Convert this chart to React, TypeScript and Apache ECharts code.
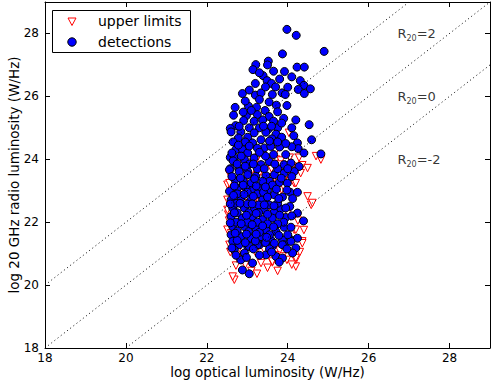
import React, { useEffect, useRef } from "react";
import * as echarts from "echarts";

const X_TICKS = [18, 20, 22, 24, 26, 28];
const Y_TICKS = [18, 20, 22, 24, 26, 28];

const detections: number[][] = [
  [23.98,28.13],[24.21,27.94],[24.90,27.43],[23.87,27.35],[23.52,27.12],[23.21,27.01],[23.50,27.00],[23.14,26.85],[23.92,26.79],[24.23,26.93],[24.41,26.93],[23.39,26.66],[24.10,26.62],[23.49,26.50],[23.60,26.41],[23.20,26.41],[24.31,26.50],[24.40,26.35],[24.56,26.24],[24.00,26.29],[24.26,26.22],[22.88,26.09],[23.20,26.04],[23.34,26.11],[23.62,26.06],[23.86,26.11],[23.94,26.06],[24.41,26.09],
  [23.03,25.69],[23.23,25.65],[23.54,25.82],[23.72,25.72],[23.98,25.71],[23.44,25.55],[23.75,25.51],[22.66,25.40],[22.98,25.39],[23.25,25.42],[23.54,25.36],[22.91,25.23],[23.17,25.21],[23.38,25.25],[23.65,25.21],[22.71,25.07],[22.58,24.98],[23.05,25.00],[23.30,25.00],[23.52,24.96],[23.75,25.00],[24.10,25.00],[24.53,25.10],[22.60,24.87],[22.84,24.87],[23.17,24.84],[23.46,24.86],[23.71,24.80],[22.78,24.68],[23.01,24.70],[23.34,24.62],[23.61,24.65],[23.85,24.70],[24.59,24.62],[23.13,24.52],[23.42,24.36],[23.58,24.41],[23.80,24.39],[24.24,24.52],[24.26,24.34],[24.40,24.20],[24.82,24.17],[22.72,24.31],[22.88,24.31],[23.01,24.20],[22.58,24.06],[22.68,24.04],[22.93,23.99],[23.17,24.04],[23.34,23.83],[23.54,23.93],[23.91,23.83],[24.08,23.88],[24.28,23.77],[22.58,23.70],[22.80,23.70],[23.01,23.61],
  [22.56,23.67],[22.80,23.61],[23.01,23.51],[23.21,23.46],[23.46,23.48],[23.67,23.51],[23.91,23.56],[24.16,23.61],[23.79,23.26],[23.99,23.24],[22.56,22.98],[22.76,23.09],[22.97,23.09],[23.13,23.03],[23.30,23.09],[23.50,23.01],[23.67,22.87],[23.87,22.80],[24.06,22.95],[24.24,22.95],[22.60,22.71],[22.84,22.77],[23.09,22.71],[23.38,22.71],[23.54,22.55],[22.64,22.45],[22.93,22.45],[23.17,22.45],[23.42,22.39],[23.67,22.34],[23.83,22.42],[24.24,22.29],[24.39,22.04],[22.60,22.18],[22.88,22.13],[23.13,22.18],[23.38,22.08],[23.62,22.13],[23.91,21.84],[24.08,21.84],[22.64,21.86],[22.93,21.86],[23.21,21.81],[23.46,21.76],[23.71,21.70],[22.60,21.60],[22.84,21.54],[23.09,21.49],[23.34,21.54],[23.58,21.44],[23.87,21.44],[24.08,21.44],[24.24,21.49],[22.68,21.28],[23.01,21.23],[23.30,21.28],[23.62,21.23],[23.91,21.28],
  [22.64,21.39],[22.80,21.28],[23.05,21.23],[23.25,21.28],[23.67,21.33],[23.87,21.28],[24.08,21.39],[24.20,21.18],[22.68,21.12],[22.93,21.02],[23.46,20.96],[23.71,20.91],[23.87,20.86],[24.12,21.02],[22.84,20.80],[23.13,20.70],[23.79,20.73],[22.88,20.48],[23.05,20.36],
  [22.70,23.35],[22.90,23.30],[23.10,23.25],[22.75,22.90],[23.00,22.95],[23.25,22.90],[22.72,22.60],[23.00,22.58],[23.28,22.55],[22.75,22.30],[23.03,22.30],[23.28,22.30],[22.72,22.00],[23.00,22.00],[23.25,22.00],[23.50,21.95],[22.75,21.72],[23.03,21.70],[23.30,21.68],[22.75,21.42],[23.20,21.40],[23.45,21.35],[22.65,23.95],[22.85,24.10],[23.05,23.85],[23.25,23.70],[22.65,24.55],[22.95,24.55],[23.25,24.35],[23.65,24.15],[23.45,24.10],[23.75,23.70],[22.70,25.65],[22.95,25.85],[23.30,25.90],[23.55,23.30],[23.40,22.95],[23.75,22.60],[23.95,22.15],[23.55,21.60],[23.90,22.00],[24.00,21.60],[23.75,21.95],[24.05,22.50],[24.10,24.40],[23.95,24.15],[24.15,24.75],[23.90,25.30],[24.20,25.25],
  [22.62,23.45],[22.83,23.40],[23.18,23.38],[23.38,23.30],[23.62,23.18],[23.84,23.40],[24.10,23.45],[22.68,23.15],[22.90,23.18],[23.22,23.15],[23.45,23.12],[23.72,23.05],[23.98,23.02],[22.66,22.85],[22.92,22.88],[23.15,22.82],[23.50,22.80],[23.78,22.75],[24.12,22.75],[22.58,22.58],[22.82,22.60],[23.12,22.58],[23.42,22.55],[23.66,22.52],[23.95,22.45],[22.68,22.30],[22.98,22.22],[23.22,22.28],[23.50,22.25],[23.80,22.22],[24.10,22.20],[22.58,21.98],[22.85,21.95],[23.12,21.92],[23.38,21.88],[23.65,21.85],[22.70,21.65],[22.98,21.62],[23.22,21.62],[23.48,21.52],[23.78,21.58],[22.62,21.18],[22.95,21.35],[23.15,21.15],[23.55,21.15],[23.98,21.15],[22.98,20.88],[23.30,20.95],[23.60,21.05],[22.72,20.95],
  [22.75,23.85],[22.95,23.78],[23.15,23.85],[23.42,23.70],[23.68,23.85],[24.00,23.70],[22.62,24.20],[22.78,24.45],[23.05,24.42],[23.30,24.22],[23.55,24.58],[23.75,24.55],[23.95,24.50],[22.80,25.05],[22.90,25.50],[23.10,25.55],[23.40,25.05],[23.60,25.05],[23.85,25.15],[23.05,26.20],[23.45,26.30],[23.70,26.30],[23.80,26.55],[23.30,26.75],[23.65,26.80]
];

const upperLimits: number[][] = [
  [24.03,24.84],[24.82,23.99],[23.25,24.04],[23.50,24.02],[23.71,23.99],[23.83,23.96],[24.12,23.77],[24.36,23.81],[24.49,23.72],[23.34,23.72],[23.13,23.67],[23.91,23.61],[24.20,23.63],[23.85,23.03],[24.49,22.82],[24.58,22.55],[24.16,23.24],[24.32,23.56],[24.16,21.76],[24.36,21.39],[22.68,20.17],[23.24,20.36],[23.34,20.70],[23.62,20.72],[23.98,20.80],[24.20,20.59],[24.20,20.80],[24.36,21.33],[23.42,21.12],[22.76,21.07],[22.51,23.19],[22.51,22.71],[22.53,22.24],[22.51,21.76],[22.56,21.28],[23.34,22.71],[23.25,22.55],[23.42,22.87],[23.54,23.19],[23.05,23.35],[23.67,23.41],[22.80,23.03],[23.91,23.10],[23.50,23.99],[23.79,23.83],[24.20,23.24],[24.61,22.61],[24.20,21.76],[24.20,20.86],[23.62,20.75],[22.64,20.27],[22.76,20.86],[23.87,20.91],[23.30,23.56],[22.97,23.56],[22.56,23.24],[22.51,22.39],
  [23.15,22.20],[23.60,22.40],[23.00,21.90],[23.35,21.50],[23.80,21.10],[22.90,22.60],[23.45,23.40],[23.60,23.70],[23.95,23.45],[24.05,23.30],[22.65,21.50],[24.28,24.05],[24.70,24.10],[24.00,22.30],[23.38,22.80],[23.30,22.62],[23.45,22.65],
  [22.55,23.55],[22.60,22.95],[22.55,22.05],[22.60,21.65],[22.58,21.05],[22.72,20.62],[22.95,20.65],[23.10,20.45],[23.50,20.55],[23.75,20.45],[24.10,20.65],[23.20,21.05],[23.70,20.95],[24.25,22.05],[24.40,21.75],[24.30,21.05],[23.40,24.20],[23.70,24.25],[24.05,24.05],[23.15,23.90],[22.85,23.80]
];

const LINE_R_PLUS2 = [[18, 20], [27, 29]];
const LINE_R_0 = [[18, 18], [29, 29]];
const LINE_R_MINUS2 = [[20, 18], [29, 27]];
const R_LABELS = [
  { name: "2", value: [26.7, 28.05] },
  { name: "0", value: [26.7, 26.05] },
  { name: "-2", value: [26.7, 24.05] },
];

const FONT = "DejaVu Sans";

export default function App() {
  const ref = useRef<HTMLDivElement>(null);
  useEffect(() => {
    if (!ref.current) return;
    const chart = echarts.init(ref.current, undefined, { renderer: "svg" });
    const axisCommon = {
      type: "value" as const,
      min: 18,
      max: 29,
      interval: 2,
      splitLine: { show: false },
      axisLine: { show: true, onZero: false, lineStyle: { color: "#000", width: 1 } },
      axisTick: { show: true, inside: true, length: 5, lineStyle: { color: "#000" } },
    };
    const dotted = { color: "#000", width: 1, type: [1, 3] as any };
    chart.setOption({
      animation: false,
      backgroundColor: "#fff",
      grid: { left: 45, top: 2, width: 445, height: 346, containLabel: false, outerBoundsMode: "none" },
      xAxis: [
        {
          ...axisCommon,
          position: "bottom",
          axisLabel: {
            show: true, color: "#000", fontFamily: FONT, fontSize: 12, margin: 4,
            formatter: (v: number) => (X_TICKS.includes(v) ? String(v) : ""),
          },
          name: "log optical luminosity (W/Hz)",
          nameLocation: "middle",
          nameGap: 17,
          nameMoveOverlap: false,
          nameTextStyle: { color: "#000", fontFamily: FONT, fontSize: 13.5 },
        },
        { ...axisCommon, position: "top", axisLabel: { show: false } },
      ],
      yAxis: [
        {
          ...axisCommon,
          position: "left",
          axisLabel: {
            show: true, color: "#000", fontFamily: FONT, fontSize: 12, margin: 6,
            formatter: (v: number) => (Y_TICKS.includes(v) ? String(v) : ""),
          },
          name: "log 20 GHz radio luminosity (W/Hz)",
          nameLocation: "middle",
          nameGap: 24,
          nameMoveOverlap: false,
          nameTextStyle: { color: "#000", fontFamily: FONT, fontSize: 13.5 },
        },
        { ...axisCommon, position: "right", axisLabel: { show: false } },
      ],
      series: [
        { type: "line", data: LINE_R_PLUS2, symbol: "none", lineStyle: dotted, silent: true },
        { type: "line", data: LINE_R_0, symbol: "none", lineStyle: dotted, silent: true },
        { type: "line", data: LINE_R_MINUS2, symbol: "none", lineStyle: dotted, silent: true },
        {
          type: "scatter",
          name: "upper limits",
          data: upperLimits,
          symbol: "path://M0,0 L10,0 L5,10 Z",
          symbolSize: [7.5, 7.5],
          itemStyle: { color: "#fff", borderColor: "#ff0000", borderWidth: 1, opacity: 1 },
        },
        {
          type: "scatter",
          name: "detections",
          data: detections,
          symbol: "circle",
          symbolSize: 8,
          itemStyle: { color: "#0000ff", borderColor: "#000", borderWidth: 1, opacity: 1 },
        },
        {
          type: "scatter",
          data: R_LABELS,
          symbolSize: 1,
          itemStyle: { color: "rgba(0,0,0,0)" },
          label: {
            show: true,
            position: "right",
            distance: 0,
            formatter: (p: any) => `{a|R}{b|20}{a|=${p.name}}`,
            rich: {
              a: { fontFamily: FONT, fontSize: 13, color: "#000", lineHeight: 16, verticalAlign: "bottom" },
              b: { fontFamily: FONT, fontSize: 8, color: "#000", lineHeight: 16, verticalAlign: "bottom", padding: [0, 0, -3, 0] },
            },
          },
        },
      ],
      graphic: [
        { type: "rect", shape: { x: 52.5, y: 10.5, width: 138, height: 42 }, style: { fill: "#fff", stroke: "#000", lineWidth: 1 }, z: 100 },
        { type: "polygon", shape: { points: [[68, 18], [76, 18], [72, 25.5]] }, style: { fill: "#fff", stroke: "#ff0000", lineWidth: 1 }, z: 101 },
        { type: "circle", shape: { cx: 72, cy: 42, r: 4.2 }, style: { fill: "#0000ff", stroke: "#000", lineWidth: 1 }, z: 101 },
        { type: "text", x: 98, y: 21, style: { text: "upper limits", fontFamily: FONT, fontSize: 14, fill: "#000", verticalAlign: "middle" }, z: 101 },
        { type: "text", x: 98, y: 42, style: { text: "detections", fontFamily: FONT, fontSize: 14, fill: "#000", verticalAlign: "middle" }, z: 101 },
      ],
    });
    return () => chart.dispose();
  }, []);
  return <div ref={ref} style={{ position: "fixed", left: 0, top: 0, width: 491, height: 381 }} />;
}
